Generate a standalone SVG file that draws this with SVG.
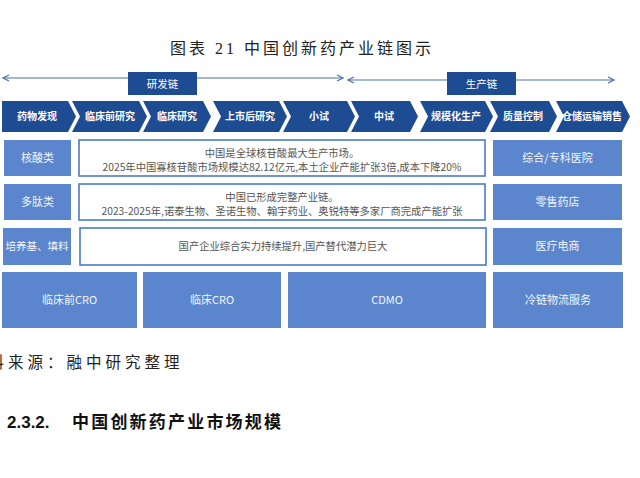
<svg xmlns="http://www.w3.org/2000/svg" width="640" height="478" viewBox="0 0 640 478">
<style>
.bg{fill:#ffffff}
.title{font-family:"Liberation Serif","Noto Sans CJK SC",serif;font-size:16px;letter-spacing:3px;fill:#222}
.chev{fill:#1E4C93}
.ct{font-family:"Noto Sans CJK SC",sans-serif;font-size:10px;font-weight:bold;fill:#ffffff;text-anchor:middle}
.lab{fill:#1E4C93}
.lt{font-family:"Noto Sans CJK SC",sans-serif;font-size:10.5px;fill:#ffffff;text-anchor:middle}
.cell{fill:#5B86CD}
.cellt{font-family:"Noto Sans CJK SC",sans-serif;font-size:11px;fill:#F2F5FB;text-anchor:middle}
.mid{fill:#ffffff;stroke:#4C7AC9;stroke-width:1.6}
.midt{font-family:"Noto Sans CJK SC",sans-serif;font-size:10.3px;fill:#555555;text-anchor:middle}
.conn{stroke:#4E72AA;stroke-width:1.2;fill:none}
.src{font-family:"Liberation Serif","Noto Sans CJK SC",serif;font-size:15.5px;letter-spacing:4px;fill:#222}
.h{font-family:"Liberation Sans","Noto Sans CJK SC",sans-serif;font-size:17px;font-weight:bold;fill:#111}
</style>
<defs>
<marker id="ah" viewBox="0 0 8 8" refX="7" refY="4" markerWidth="8" markerHeight="8" markerUnits="userSpaceOnUse" orient="auto-start-reverse">
<path d="M1,1 L7,4 L1,7" fill="none" stroke="#4E72AA" stroke-width="1.2"/>
</marker>
</defs>
<rect class="bg" x="0" y="0" width="640" height="478"/>
<text class="title" x="170" y="54">图表 21 中国创新药产业链图示</text>

<g id="connectors">
<line class="conn" x1="3" y1="78" x2="343" y2="78" marker-start="url(#ah)" marker-end="url(#ah)"/>
<line class="conn" x1="348" y1="80" x2="614" y2="80" marker-start="url(#ah)" marker-end="url(#ah)"/>
</g>

<g id="label-rd"><rect class="lab" x="128" y="72" width="69" height="23"/><text class="lt" x="162.5" y="88">研发链</text></g>
<g id="label-prod"><rect class="lab" x="447" y="72" width="69" height="23"/><text class="lt" x="481.5" y="88">生产链</text></g>

<g id="chev1"><path class="chev" d="M2,101 L68,101 L76,116.5 L68,132 L2,132 Z"/><text class="ct" x="37" y="120">药物发现</text></g>
<g id="chev2"><path class="chev" d="M72,101 L139,101 L147,116.5 L139,132 L72,132 L80,116.5 Z"/><text class="ct" x="110" y="120">临床前研究</text></g>
<g id="chev3"><path class="chev" d="M143,101 L203,101 L211,116.5 L203,132 L143,132 L151,116.5 Z"/><text class="ct" x="177" y="120">临床研究</text></g>
<g id="chev4"><path class="chev" d="M213,101 L279,101 L287,116.5 L279,132 L213,132 L221,116.5 Z"/><text class="ct" x="250" y="120">上市后研究</text></g>
<g id="chev5"><path class="chev" d="M283,101 L347,101 L355,116.5 L347,132 L283,132 L291,116.5 Z"/><text class="ct" x="319" y="120">小试</text></g>
<g id="chev6"><path class="chev" d="M351,101 L410,101 L418,116.5 L410,132 L351,132 L359,116.5 Z"/><text class="ct" x="384" y="120">中试</text></g>
<g id="chev7"><path class="chev" d="M420,101 L485,101 L493,116.5 L485,132 L420,132 L428,116.5 Z"/><text class="ct" x="456" y="120">规模化生产</text></g>
<g id="chev8"><path class="chev" d="M490,101 L549,101 L557,116.5 L549,132 L490,132 L498,116.5 Z"/><text class="ct" x="523" y="120">质量控制</text></g>
<g id="chev9"><path class="chev" d="M556,101 L622,101 L630,116.5 L622,132 L556,132 L564,116.5 Z"/><text class="ct" x="592" y="120">仓储运输销售</text></g>

<g id="row1-left"><rect class="cell" x="4" y="140" width="67" height="36"/><text class="cellt" x="37.5" y="162">核酸类</text></g>
<g id="row1-mid"><rect class="mid" x="79" y="140" width="406" height="36"/>
<text class="midt" x="282" y="157">中国是全球核苷酸最大生产市场。</text>
<text class="midt" x="282" y="171">2025年中国寡核苷酸市场规模达82.12亿元,本土企业产能扩张3倍,成本下降20%</text></g>
<g id="row1-right"><rect class="cell" x="493" y="140" width="129" height="36"/><text class="cellt" x="557.5" y="162">综合/专科医院</text></g>

<g id="row2-left"><rect class="cell" x="4" y="184" width="67" height="36"/><text class="cellt" x="37.5" y="206">多肽类</text></g>
<g id="row2-mid"><rect class="mid" x="79" y="184" width="406" height="36"/>
<text class="midt" x="282" y="201">中国已形成完整产业链。</text>
<text class="midt" x="282" y="215">2023-2025年,诺泰生物、圣诺生物、翰宇药业、奥锐特等多家厂商完成产能扩张</text></g>
<g id="row2-right"><rect class="cell" x="493" y="184" width="129" height="36"/><text class="cellt" x="557.5" y="206">零售药店</text></g>

<g id="row3-left"><rect class="cell" x="3" y="228" width="68" height="37"/><text class="cellt" x="37" y="250" style="font-size:10.5px">培养基、填料</text></g>
<g id="row3-mid"><rect class="mid" x="80" y="228" width="406" height="37"/><text class="midt" x="283" y="250">国产企业综合实力持续提升,国产替代潜力巨大</text></g>
<g id="row3-right"><rect class="cell" x="493" y="228" width="129" height="37"/><text class="cellt" x="557.5" y="250">医疗电商</text></g>

<g id="cro-pre"><rect class="cell" x="2" y="272" width="135" height="56"/><text class="cellt" x="69.5" y="304">临床前CRO</text></g>
<g id="cro-clin"><rect class="cell" x="143" y="272" width="138" height="56"/><text class="cellt" x="212" y="304">临床CRO</text></g>
<g id="cdmo"><rect class="cell" x="288" y="272" width="198" height="56"/><text class="cellt" x="387" y="304">CDMO</text></g>
<g id="coldchain"><rect class="cell" x="493" y="272" width="130" height="56"/><text class="cellt" x="558" y="304">冷链物流服务</text></g>

<text class="src" x="-31" y="368">资料来源：融中研究整理</text>
<text class="h" x="7" y="428">2.3.2.</text>
<text class="h" x="72" y="428" style="letter-spacing:2.2px">中国创新药产业市场规模</text>
</svg>
